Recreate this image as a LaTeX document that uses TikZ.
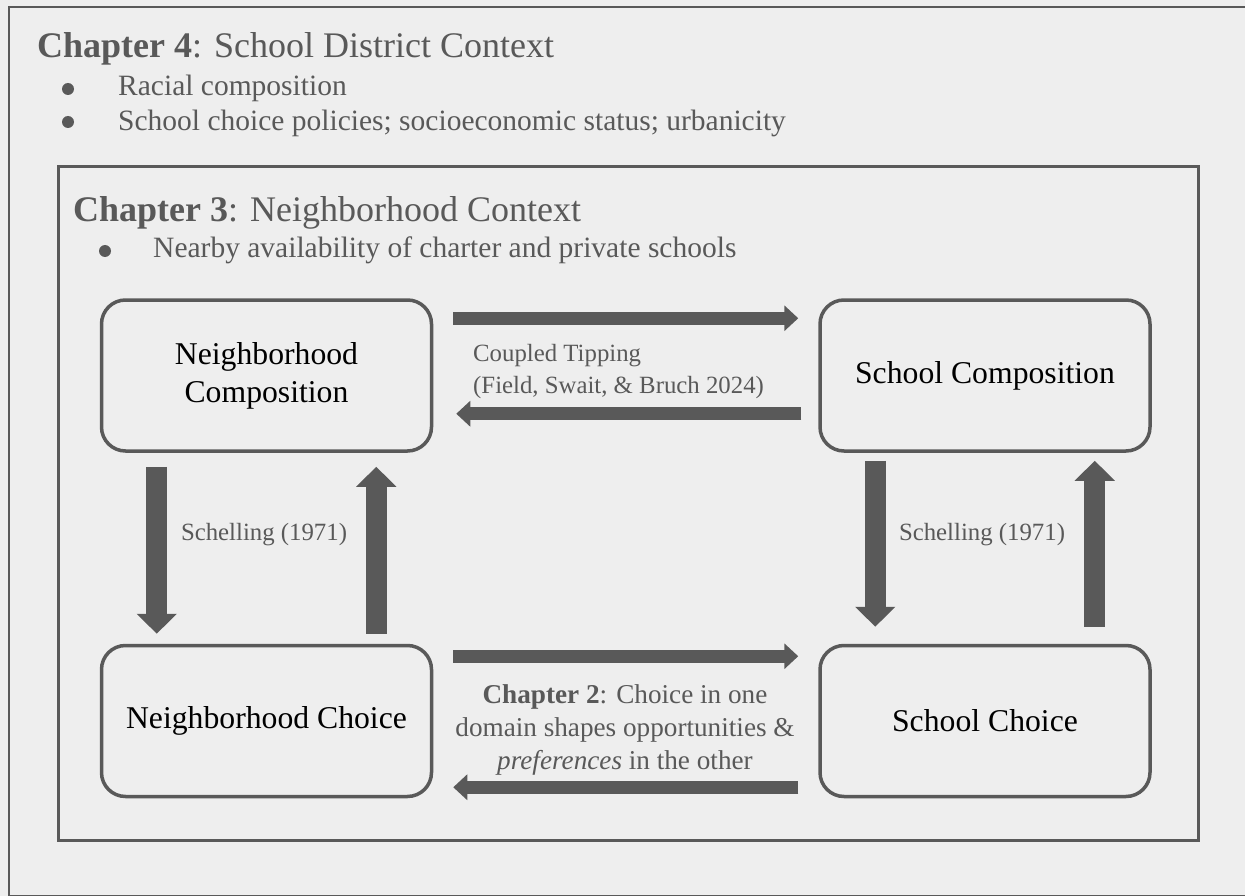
\documentclass[tikz,border=0pt]{standalone}
\usepackage{fontspec}
\setmainfont{Liberation Serif}
\usetikzlibrary{positioning,arrows.meta}
\definecolor{ink}{HTML}{595959}
\definecolor{paper}{HTML}{EEEEEE}
\tikzset{
  box/.style={draw=ink, line width=3.5pt, rounded corners=24pt, minimum width=330pt, minimum height=151pt, align=center, text=black, font=\fontsize{31.7}{38}\selectfont},
  thinarrow/.style={draw=ink, line width=13pt, -{Triangle[width=25pt,length=14pt]}},
  fatarrow/.style={draw=ink, line width=21pt, -{Triangle[width=39pt,length=20pt]}},
  heading/.style={anchor=base west, inner sep=0pt, text=ink, font=\fontsize{36}{40}\selectfont},
  item/.style={anchor=base west, inner sep=0pt, text=ink, font=\fontsize{29.5}{34}\selectfont},
  note/.style={inner sep=0pt, text=ink, font=\fontsize{24.8}{32}\selectfont},
}

\begin{document}
\begin{tikzpicture}[x=1pt, y=-1pt]
		\fill[paper] (0,0) rectangle (1245,896);
		\useasboundingbox (0,0) rectangle (1245,896);
		
		% Frames
		\draw[ink, line width=2.5pt] (9,7) rectangle (1262,896);
		\draw[ink, line width=3pt] (58,167) rectangle (1198,840);
		
		% Headings and bullets
		\node[heading] (ch4) at (37,58) {\textbf{Chapter 4}: School District Context};
		\node[item] (race) at (118,96) {Racial composition};
		\node[item] (policy) at (118,131) {School choice policies; socioeconomic status; urbanicity};
		\fill[ink] (68,89) circle (6pt);
		\fill[ink] (68,122) circle (6pt);
		\node[heading] (ch3) at (73,222) {\textbf{Chapter 3}: Neighborhood Context};
		\node[item] (avail) at (153,258) {Nearby availability of charter and private schools};
		\fill[ink] (105,251) circle (6pt);
		
		% Define nodes
		\node[box] (nc) at (266.5,375.5) {Neighborhood\\Composition};
		\node[box, right=385pt of nc] (sc) {School Composition};
		\node[box, below=191pt of nc] (nch) {Neighborhood Choice};
		\node[box, below=191pt of sc] (sch) {School Choice};
		
		% Connect the nodes
		\draw[thinarrow] ([xshift=20pt,yshift=-20pt]nc.north east) -- ([xshift=-20pt,yshift=-20pt]sc.north west);
		\draw[thinarrow] ([xshift=-17pt,yshift=39pt]sc.south west) -- ([xshift=23pt,yshift=39pt]nc.south east);
		\draw[thinarrow] ([xshift=20pt,yshift=-12.5pt]nch.north east) -- ([xshift=-20pt,yshift=-12.5pt]sch.north west);
		\draw[thinarrow] ([xshift=-20pt,yshift=-143.5pt]sch.north west) -- ([xshift=20pt,yshift=-143.5pt]nch.north east);
		\draw[fatarrow] ([xshift=57pt,yshift=-14pt]nc.south west) -- ([xshift=57pt,yshift=10pt]nch.north west);
		\draw[fatarrow] ([xshift=-57pt,yshift=10pt]nch.north east) -- ([xshift=-57pt,yshift=-14pt]nc.south east);
		\draw[fatarrow] ([xshift=57pt,yshift=-8pt]sc.south west) -- ([xshift=57pt,yshift=17pt]sch.north west);
		\draw[fatarrow] ([xshift=-57pt,yshift=17pt]sch.north east) -- ([xshift=-57pt,yshift=-8pt]sc.south east);
		
		% Labels
		\node[note] (schl) at (264,535) {Schelling (1971)};
		\node[note] (schr) at (982,535) {Schelling (1971)};
		\node[note, anchor=west, align=left] (tip) at (473,372) {Coupled Tipping\\(Field, Swait, \& Bruch 2024)};
		\node[note, align=center, font=\fontsize{27.2}{33}\selectfont] (ch2) at (625,729.5) {\textbf{Chapter 2}: Choice in one\\domain shapes opportunities \&\\\textit{preferences} in the other};
	\end{tikzpicture}
\end{document}
